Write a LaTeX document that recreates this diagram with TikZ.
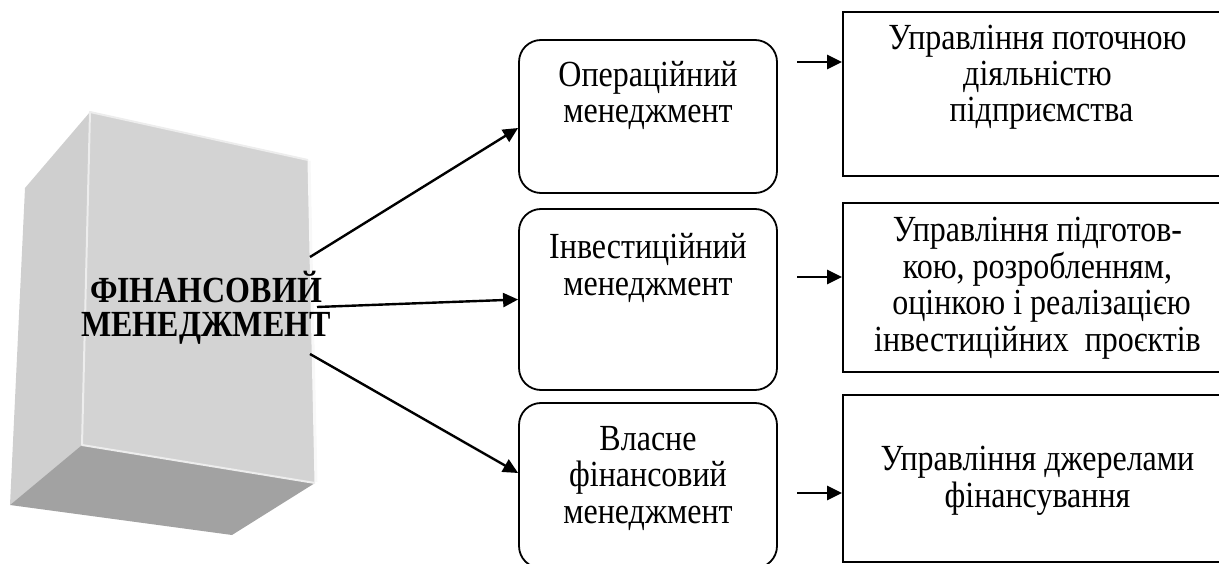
\documentclass[tikz,border=0pt]{standalone}
\usepackage{fontspec}
\setmainfont{Liberation Serif}
\usetikzlibrary{arrows.meta}
\definecolor{frontgray}{HTML}{D3D3D3}
\definecolor{sidegray}{HTML}{CFCFCF}
\definecolor{basegray}{HTML}{A2A2A2}
\definecolor{edgelight}{HTML}{EDEDED}
\begin{document}
\setlength{\lineskiplimit}{-100pt}
\begin{tikzpicture}[x=1pt,y=-1pt,
  % text is set slightly tall: the node is stretched vertically about its base point
  tall/.style={yscale=1.15, transform shape},
  txt/.style={font=\fontsize{32}{31.7}\selectfont, align=center, inner sep=0pt, anchor=base, tall},
  boldtxt/.style={font=\fontsize{32}{30.4}\selectfont\bfseries, align=center, inner sep=0pt, anchor=base, tall},
  roundbox/.style={draw, line width=1.8pt, rounded corners=22pt, inner sep=0pt},
  plainbox/.style={draw, line width=1.8pt, inner sep=0pt},
  arr/.style={line width=2.4pt, -{Triangle[length=15pt,width=14pt]}}]
\useasboundingbox (0,0) rectangle (1219,564);
\clip (0,0) rectangle (1219,564);

% 3D block: side, bottom and front faces
\fill[sidegray] (90,112) -- (25,188) -- (10,505) -- (82,445) -- cycle;
\fill[basegray] (82,445) -- (10,505) -- (232,535) -- (315,483) -- cycle;
\fill[frontgray] (90,112) -- (308,160) -- (315,483) -- (82,445) -- cycle;
\draw[edgelight, line width=2pt, line join=round]
  (308,160) -- (90,112) -- (82,445) -- (315,483);
\draw[white!85!frontgray, line width=3pt] (309,161) -- (316,482);

% text nodes: shift gives the baseline of the last line
\node[shift={(206,337)}, boldtxt] (fin) at (0,0) {ФІНАНСОВИЙ\\МЕНЕДЖМЕНТ};
\coordinate (s1) at (310,257);
\coordinate (s2) at (317,307);
\coordinate (s3) at (310,354);

% middle column
\node[roundbox, minimum width=258pt, minimum height=153pt] (op) at (648,116.5) {};
\node[roundbox, minimum width=258pt, minimum height=181pt] (inv) at (648,299.5) {};
\node[roundbox, minimum width=258pt, minimum height=165pt] (own) at (648,485.5) {};
\node[shift={(648,123)}, txt] (optxt) at (0,0) {Операційний\\менеджмент};
\node[shift={(648,295)}, txt] (invtxt) at (0,0) {Інвестиційний\\менеджмент};
\node[shift={(648,523)}, txt] (owntxt) at (0,0) {Власне\\фінансовий\\менеджмент};

% right column
\node[plainbox, minimum width=389pt, minimum height=164pt] (r1) at (1037.5,94) {};
\node[plainbox, minimum width=389pt, minimum height=169pt] (r2) at (1037.5,287.5) {};
\node[plainbox, minimum width=389pt, minimum height=167pt] (r3) at (1037.5,478.5) {};
\node[shift={(1037.5,122)}, txt] (r1txt) at (0,0) {Управління поточною\\діяльністю\\\ підприємства};
\node[shift={(1037.5,351)}, txt] (r2txt) at (0,0) {Управління підготов-\\кою, розробленням,\\\ оцінкою і реалізацією\\інвестиційних\ \ проєктів};
\node[shift={(1037.5,507)}, txt] (r3txt) at (0,0) {Управління джерелами\\фінансування};

% connectors
\draw[arr] (s1) -- ([yshift=-11.5pt]op.west);
\draw[arr] (s2) -- (inv.west);
\draw[arr] (s3) -- ([yshift=12.5pt]own.west);

\coordinate (a1) at (797,62);
\coordinate (a2) at (797,277);
\coordinate (a3) at (797,493);
\draw[arr] (a1) -- (a1 -| r1.west);
\draw[arr] (a2) -- (a2 -| r2.west);
\draw[arr] (a3) -- (a3 -| r3.west);
\end{tikzpicture}
\end{document}
